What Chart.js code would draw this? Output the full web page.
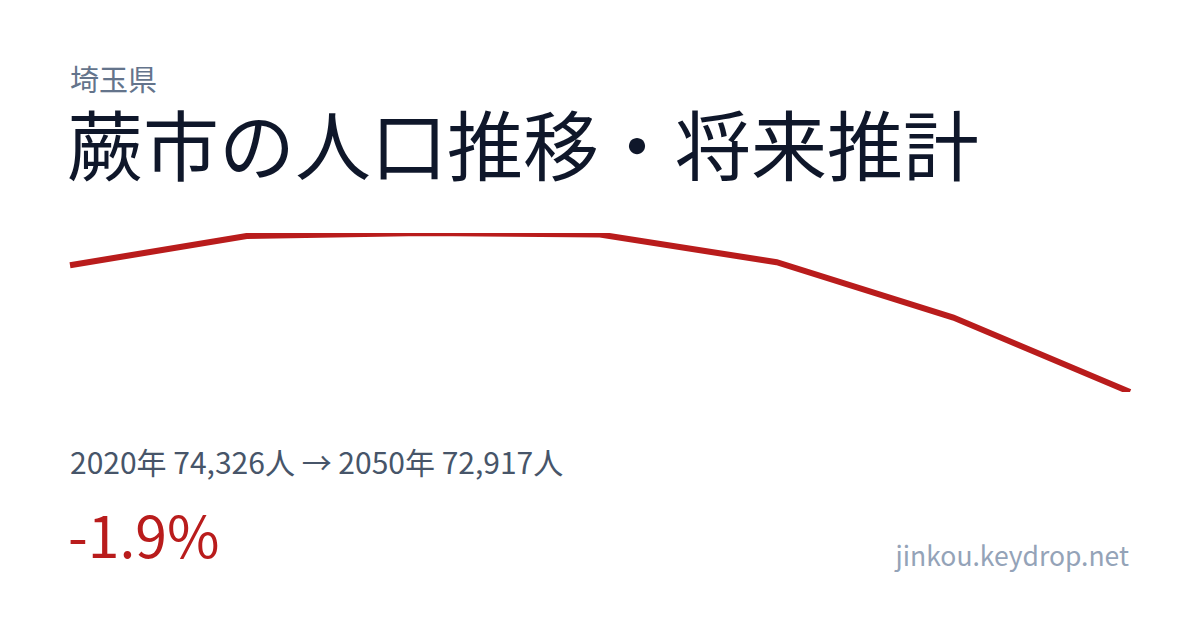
<!DOCTYPE html>
<html lang="ja">
<head>
<meta charset="utf-8">
<script src="https://cdn.jsdelivr.net/npm/chart.js@4/dist/chart.umd.min.js"></script>
<style>
  html, body { margin: 0; padding: 0; }
  body {
    width: 1200px; height: 630px; background: #fff; position: relative; overflow: hidden;
    font-family: "Noto Sans CJK JP", "Noto Sans", sans-serif;
  }
  .t { position: absolute; line-height: 1; white-space: nowrap; }
  #pref { left: 70px; top: 64px; font-size: 29px; color: #64748b; }
  #title { left: 67px; top: 104px; font-size: 76px; color: #0f172a; }
  #summary { left: 70px; top: 446px; font-size: 30px; color: #475569; }
  #rate { left: 68px; top: 505px; font-size: 57px; color: #b91c1c; }
  #site { right: 71px; top: 542px; font-size: 26.5px; color: #94a3b8; }
  #wrap { position: absolute; left: 67px; top: 230px; width: 1066px; height: 165px; }
</style>
</head>
<body>
<div class="t" id="pref">埼玉県</div>
<div class="t" id="title">蕨市の人口推移・将来推計</div>
<div id="wrap"><canvas id="grafico"></canvas></div>
<div class="t" id="summary">2020年 74,326人 → 2050年 72,917人</div>
<div class="t" id="rate">-1.9%</div>
<div class="t" id="site">jinkou.keydrop.net</div>

<script>
// Años y población
const anios = ["2020", "2025", "2030", "2035", "2040", "2045", "2050"];
const poblacion = [74326, 74651, 74684, 74667, 74359, 73744, 72917];

const ctx = document.getElementById("grafico").getContext("2d");
new Chart(ctx, {
  type: "line",
  data: {
    labels: anios,
    datasets: [{
      label: "人口",
      data: poblacion,
      borderColor: "#b91c1c",
      borderWidth: 6,
      pointRadius: 0,
      tension: 0,
      fill: false,
    }],
  },
  options: {
    responsive: true,
    maintainAspectRatio: false,
    animation: false,
    layout: { padding: 3 },
    plugins: {
      legend: { display: false },
      tooltip: { enabled: false },
    },
    scales: {
      x: { display: false, offset: false },
      y: {
        display: false,
        min: Math.min(...poblacion),
        max: Math.max(...poblacion),
      },
    },
  },
});
</script>
</body>
</html>
